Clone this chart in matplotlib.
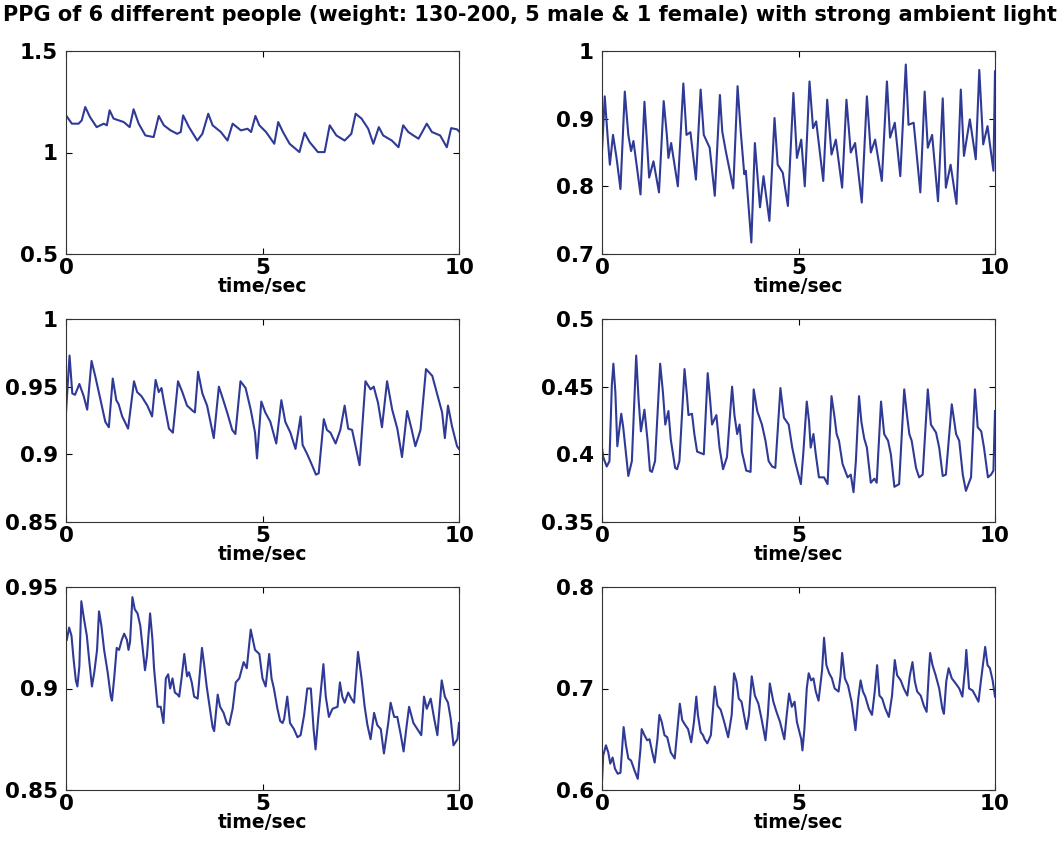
import matplotlib
matplotlib.use("Agg")
import matplotlib.pyplot as plt
from matplotlib.ticker import FuncFormatter

plt.rcParams['font.family'] = ['DejaVu Sans']
plt.rcParams['font.weight'] = 'bold'

TITLE = "PPG of 6 different people (weight: 130-200, 5 male & 1 female) with strong ambient light"
XLABEL = "time/sec"
X_TICKS = [0, 5, 10]

# ---- person 1 ----
t1 = [0, 0.15, 0.32, 0.40, 0.49, 0.61, 0.78, 0.96, 1.04, 1.11, 1.21, 1.47, 1.62, 1.72, 1.85, 2.02,
      2.23, 2.36, 2.49, 2.66, 2.83, 2.92, 2.98, 3.13, 3.34, 3.47, 3.62, 3.73, 3.94, 4.11, 4.24, 4.45,
      4.62, 4.71, 4.82, 4.92, 5.09, 5.30, 5.40, 5.52, 5.69, 5.94, 6.07, 6.20, 6.41, 6.58, 6.71, 6.88,
      7.09, 7.26, 7.37, 7.52, 7.69, 7.82, 7.96, 8.07, 8.29, 8.46, 8.58, 8.71, 8.84, 8.97, 9.18, 9.31,
      9.52, 9.69, 9.80, 9.95, 10.0]
v1 = [1.183, 1.142, 1.142, 1.158, 1.224, 1.175, 1.125, 1.142, 1.134, 1.208, 1.167, 1.150, 1.125, 1.213,
      1.142, 1.084, 1.076, 1.180, 1.134, 1.109, 1.092, 1.101, 1.183, 1.125, 1.059, 1.092, 1.191, 1.134,
      1.101, 1.059, 1.142, 1.109, 1.117, 1.101, 1.180, 1.134, 1.101, 1.043, 1.150, 1.101, 1.043, 1.002,
      1.097, 1.051, 1.002, 1.002, 1.134, 1.084, 1.059, 1.092, 1.191, 1.167, 1.117, 1.043, 1.125, 1.084,
      1.059, 1.026, 1.134, 1.101, 1.084, 1.068, 1.142, 1.101, 1.084, 1.026, 1.120, 1.114, 1.104]

# ---- person 2 ----
t2 = [0, 0.07, 0.14, 0.20, 0.28, 0.37, 0.47, 0.58, 0.67, 0.74, 0.80, 0.88, 0.98, 1.08, 1.20, 1.31,
      1.45, 1.57, 1.65, 1.69, 1.76, 1.93, 2.07, 2.15, 2.25, 2.39, 2.51, 2.59, 2.74, 2.87, 3.00, 3.06,
      3.15, 3.34, 3.45, 3.53, 3.62, 3.66, 3.80, 3.89, 4.02, 4.11, 4.26, 4.39, 4.47, 4.60, 4.73, 4.87,
      4.96, 5.07, 5.16, 5.28, 5.37, 5.45, 5.63, 5.73, 5.84, 5.95, 6.11, 6.22, 6.33, 6.44, 6.61, 6.74,
      6.84, 6.95, 7.12, 7.25, 7.33, 7.45, 7.59, 7.73, 7.80, 7.93, 8.10, 8.21, 8.29, 8.40, 8.55, 8.67,
      8.75, 8.87, 9.02, 9.13, 9.21, 9.36, 9.51, 9.60, 9.70, 9.81, 9.96, 10.0]
v2 = [0.852, 0.933, 0.876, 0.832, 0.876, 0.842, 0.796, 0.940, 0.876, 0.852, 0.867, 0.832, 0.788, 0.925,
      0.813, 0.837, 0.791, 0.926, 0.876, 0.842, 0.864, 0.800, 0.952, 0.876, 0.880, 0.810, 0.943, 0.876,
      0.857, 0.786, 0.935, 0.881, 0.852, 0.797, 0.948, 0.881, 0.818, 0.823, 0.717, 0.864, 0.769, 0.815,
      0.749, 0.901, 0.832, 0.820, 0.771, 0.938, 0.842, 0.869, 0.800, 0.955, 0.886, 0.896, 0.808, 0.928,
      0.847, 0.869, 0.798, 0.928, 0.850, 0.864, 0.776, 0.933, 0.850, 0.869, 0.808, 0.955, 0.872, 0.894,
      0.815, 0.980, 0.891, 0.894, 0.791, 0.940, 0.857, 0.876, 0.778, 0.930, 0.798, 0.832, 0.774, 0.943,
      0.845, 0.899, 0.840, 0.972, 0.862, 0.889, 0.823, 0.970]

# ---- person 3 ----
t3 = [0, 0.09, 0.16, 0.23, 0.34, 0.45, 0.54, 0.65, 0.75, 0.88, 1.00, 1.09, 1.19, 1.28, 1.34, 1.43,
      1.58, 1.73, 1.81, 1.92, 2.07, 2.19, 2.28, 2.36, 2.43, 2.49, 2.62, 2.72, 2.85, 2.96, 3.08, 3.23,
      3.28, 3.36, 3.47, 3.59, 3.76, 3.89, 3.97, 4.10, 4.23, 4.31, 4.44, 4.57, 4.70, 4.81, 4.86, 4.97,
      5.07, 5.20, 5.35, 5.48, 5.58, 5.71, 5.84, 5.97, 6.02, 6.14, 6.26, 6.36, 6.43, 6.56, 6.64, 6.73,
      6.86, 6.98, 7.09, 7.18, 7.28, 7.47, 7.62, 7.75, 7.83, 7.94, 8.04, 8.17, 8.30, 8.43, 8.55, 8.68,
      8.79, 8.89, 9.02, 9.16, 9.32, 9.44, 9.57, 9.64, 9.72, 9.82, 9.95, 10.0]
v3 = [0.931, 0.973, 0.945, 0.944, 0.952, 0.943, 0.933, 0.969, 0.957, 0.940, 0.924, 0.920, 0.956, 0.940,
      0.937, 0.928, 0.919, 0.954, 0.946, 0.943, 0.936, 0.928, 0.955, 0.946, 0.949, 0.939, 0.919, 0.916,
      0.954, 0.946, 0.936, 0.932, 0.931, 0.961, 0.945, 0.936, 0.912, 0.950, 0.943, 0.931, 0.918, 0.915,
      0.954, 0.949, 0.933, 0.916, 0.897, 0.939, 0.931, 0.924, 0.908, 0.940, 0.924, 0.916, 0.904, 0.928,
      0.907, 0.900, 0.892, 0.885, 0.886, 0.926, 0.918, 0.916, 0.908, 0.918, 0.936, 0.919, 0.918, 0.892,
      0.954, 0.948, 0.950, 0.938, 0.920, 0.954, 0.933, 0.919, 0.898, 0.932, 0.919, 0.906, 0.918, 0.963,
      0.958, 0.945, 0.931, 0.912, 0.936, 0.921, 0.906, 0.904]

# ---- person 4 ----
t4 = [0, 0.03, 0.12, 0.19, 0.25, 0.29, 0.34, 0.39, 0.49, 0.54, 0.63, 0.67, 0.76, 0.87, 0.93, 0.99,
      1.08, 1.16, 1.22, 1.27, 1.35, 1.48, 1.55, 1.61, 1.69, 1.75, 1.86, 1.91, 1.97, 2.10, 2.16, 2.20,
      2.29, 2.35, 2.42, 2.59, 2.69, 2.76, 2.80, 2.91, 2.99, 3.08, 3.18, 3.31, 3.37, 3.44, 3.50, 3.56,
      3.67, 3.78, 3.86, 3.95, 4.07, 4.16, 4.24, 4.33, 4.41, 4.54, 4.63, 4.75, 4.84, 4.92, 5.06, 5.12,
      5.21, 5.27, 5.31, 5.38, 5.44, 5.52, 5.65, 5.74, 5.84, 5.91, 5.97, 6.03, 6.12, 6.25, 6.33, 6.40,
      6.46, 6.54, 6.60, 6.67, 6.74, 6.84, 6.93, 6.99, 7.10, 7.18, 7.28, 7.35, 7.44, 7.56, 7.69, 7.76,
      7.82, 7.88, 7.99, 8.07, 8.16, 8.29, 8.37, 8.50, 8.58, 8.67, 8.75, 8.90, 9.01, 9.09, 9.18, 9.26,
      9.39, 9.49, 9.56, 9.65, 9.72, 9.82, 9.90, 9.96, 10.0]
v4 = [0.405, 0.398, 0.391, 0.395, 0.451, 0.467, 0.446, 0.406, 0.430, 0.420, 0.395, 0.384, 0.395, 0.473,
      0.441, 0.417, 0.433, 0.410, 0.388, 0.387, 0.395, 0.467, 0.446, 0.422, 0.432, 0.411, 0.390, 0.389,
      0.395, 0.463, 0.444, 0.429, 0.430, 0.415, 0.402, 0.400, 0.460, 0.437, 0.422, 0.429, 0.405, 0.389,
      0.398, 0.450, 0.429, 0.415, 0.422, 0.402, 0.388, 0.387, 0.448, 0.432, 0.422, 0.410, 0.395, 0.391,
      0.390, 0.449, 0.427, 0.422, 0.405, 0.394, 0.378, 0.400, 0.439, 0.424, 0.405, 0.415, 0.400, 0.383,
      0.383, 0.378, 0.443, 0.429, 0.415, 0.410, 0.393, 0.383, 0.385, 0.372, 0.395, 0.443, 0.424, 0.412,
      0.405, 0.379, 0.382, 0.379, 0.439, 0.415, 0.410, 0.400, 0.376, 0.378, 0.448, 0.429, 0.415, 0.410,
      0.390, 0.383, 0.385, 0.448, 0.422, 0.416, 0.405, 0.384, 0.385, 0.437, 0.415, 0.410, 0.385, 0.373,
      0.383, 0.448, 0.420, 0.417, 0.405, 0.383, 0.385, 0.388, 0.432]

# ---- person 5 ----
t5 = [0.02, 0.08, 0.14, 0.19, 0.25, 0.29, 0.34, 0.39, 0.46, 0.53, 0.59, 0.66, 0.72, 0.79, 0.84, 0.90,
      0.97, 1.06, 1.14, 1.17, 1.23, 1.29, 1.35, 1.42, 1.48, 1.55, 1.59, 1.63, 1.69, 1.75, 1.82, 1.89,
      1.97, 2.01, 2.06, 2.14, 2.20, 2.24, 2.33, 2.41, 2.48, 2.54, 2.60, 2.65, 2.71, 2.77, 2.84, 2.88,
      2.94, 3.01, 3.08, 3.13, 3.20, 3.26, 3.35, 3.46, 3.52, 3.58, 3.64, 3.73, 3.77, 3.86, 3.92, 4.01,
      4.09, 4.15, 4.24, 4.32, 4.41, 4.52, 4.60, 4.70, 4.81, 4.92, 5.00, 5.08, 5.17, 5.23, 5.29, 5.38,
      5.45, 5.51, 5.55, 5.63, 5.70, 5.80, 5.89, 5.97, 6.06, 6.14, 6.23, 6.30, 6.35, 6.42, 6.55, 6.61,
      6.69, 6.78, 6.91, 6.97, 7.03, 7.09, 7.18, 7.26, 7.33, 7.43, 7.52, 7.60, 7.67, 7.75, 7.84, 7.92,
      8.01, 8.09, 8.20, 8.26, 8.35, 8.43, 8.52, 8.59, 8.67, 8.73, 8.84, 8.94, 9.04, 9.11, 9.18, 9.28,
      9.37, 9.45, 9.56, 9.64, 9.72, 9.79, 9.86, 9.96, 10.0]
v5 = [0.924, 0.930, 0.926, 0.915, 0.904, 0.901, 0.911, 0.943, 0.934, 0.926, 0.914, 0.901, 0.908, 0.919,
      0.938, 0.931, 0.919, 0.908, 0.896, 0.894, 0.906, 0.920, 0.919, 0.924, 0.927, 0.924, 0.919, 0.923,
      0.945, 0.939, 0.937, 0.931, 0.916, 0.909, 0.916, 0.937, 0.924, 0.910, 0.891, 0.891, 0.883, 0.905,
      0.907, 0.900, 0.905, 0.898, 0.897, 0.896, 0.905, 0.917, 0.906, 0.908, 0.903, 0.896, 0.895, 0.920,
      0.911, 0.901, 0.893, 0.881, 0.879, 0.897, 0.891, 0.888, 0.883, 0.882, 0.890, 0.903, 0.905, 0.913,
      0.910, 0.929, 0.919, 0.917, 0.905, 0.901, 0.917, 0.905, 0.900, 0.890, 0.884, 0.883, 0.885, 0.896,
      0.883, 0.880, 0.876, 0.877, 0.887, 0.900, 0.900, 0.880, 0.870, 0.886, 0.912, 0.896, 0.886, 0.890,
      0.891, 0.903, 0.896, 0.893, 0.898, 0.895, 0.893, 0.918, 0.905, 0.891, 0.882, 0.875, 0.888, 0.882,
      0.880, 0.868, 0.883, 0.893, 0.886, 0.886, 0.877, 0.869, 0.882, 0.891, 0.883, 0.880, 0.877, 0.896,
      0.890, 0.895, 0.885, 0.877, 0.904, 0.896, 0.893, 0.885, 0.872, 0.875, 0.883]

# ---- person 6 ----
t6 = [0, 0.03, 0.10, 0.16, 0.21, 0.27, 0.33, 0.40, 0.47, 0.55, 0.61, 0.67, 0.74, 0.83, 0.91, 0.98,
      1.01, 1.08, 1.15, 1.21, 1.28, 1.34, 1.41, 1.46, 1.52, 1.59, 1.66, 1.75, 1.85, 1.92, 1.98, 2.04,
      2.10, 2.19, 2.27, 2.34, 2.40, 2.44, 2.51, 2.57, 2.61, 2.68, 2.77, 2.87, 2.94, 3.02, 3.11, 3.21,
      3.30, 3.36, 3.42, 3.48, 3.55, 3.68, 3.74, 3.81, 3.89, 3.98, 4.06, 4.16, 4.22, 4.27, 4.36, 4.44,
      4.53, 4.64, 4.70, 4.76, 4.83, 4.90, 4.96, 5.07, 5.10, 5.15, 5.21, 5.26, 5.32, 5.38, 5.44, 5.51,
      5.60, 5.65, 5.71, 5.78, 5.85, 5.92, 6.02, 6.07, 6.11, 6.18, 6.26, 6.35, 6.41, 6.45, 6.52, 6.58,
      6.64, 6.70, 6.79, 6.87, 6.94, 7.00, 7.06, 7.13, 7.21, 7.30, 7.38, 7.45, 7.51, 7.60, 7.68, 7.77,
      7.83, 7.90, 7.96, 8.02, 8.11, 8.19, 8.26, 8.32, 8.35, 8.41, 8.49, 8.58, 8.66, 8.70, 8.76, 8.82,
      8.90, 9.00, 9.09, 9.17, 9.24, 9.27, 9.34, 9.43, 9.50, 9.58, 9.64, 9.75, 9.81, 9.87, 9.94, 10.0]
v6 = [0.608, 0.634, 0.644, 0.637, 0.626, 0.632, 0.621, 0.616, 0.617, 0.662, 0.644, 0.631, 0.629, 0.619,
      0.611, 0.641, 0.660, 0.654, 0.649, 0.650, 0.637, 0.627, 0.650, 0.674, 0.667, 0.654, 0.652, 0.637,
      0.631, 0.660, 0.685, 0.669, 0.665, 0.660, 0.647, 0.667, 0.692, 0.674, 0.657, 0.654, 0.650, 0.646,
      0.654, 0.702, 0.683, 0.679, 0.667, 0.652, 0.674, 0.715, 0.707, 0.690, 0.687, 0.660, 0.674, 0.712,
      0.693, 0.685, 0.670, 0.649, 0.674, 0.705, 0.687, 0.677, 0.667, 0.650, 0.674, 0.695, 0.682, 0.687,
      0.667, 0.650, 0.639, 0.660, 0.700, 0.715, 0.708, 0.710, 0.697, 0.688, 0.718, 0.750, 0.723, 0.715,
      0.710, 0.700, 0.697, 0.713, 0.735, 0.710, 0.703, 0.687, 0.670, 0.659, 0.690, 0.708, 0.697, 0.692,
      0.680, 0.674, 0.697, 0.723, 0.693, 0.690, 0.680, 0.672, 0.693, 0.728, 0.713, 0.708, 0.700, 0.693,
      0.712, 0.726, 0.707, 0.697, 0.693, 0.683, 0.677, 0.718, 0.735, 0.723, 0.713, 0.700, 0.680, 0.675,
      0.707, 0.720, 0.710, 0.705, 0.700, 0.692, 0.720, 0.738, 0.700, 0.698, 0.693, 0.687, 0.707, 0.741,
      0.723, 0.720, 0.708, 0.692]

# y-range and ticks of each panel
Y_LIMITS = [(0.5, 1.5), (0.7, 1.0), (0.85, 1.0), (0.35, 0.5), (0.85, 0.95), (0.6, 0.8)]
Y_TICKS = [[0.5, 1, 1.5], [0.7, 0.8, 0.9, 1], [0.85, 0.9, 0.95, 1],
           [0.35, 0.4, 0.45, 0.5], [0.85, 0.9, 0.95], [0.6, 0.7, 0.8]]
SERIES = [(t1, v1), (t2, v2), (t3, v3), (t4, v4), (t5, v5), (t6, v6)]

W, H = 1059, 852
fig = plt.figure(figsize=(W / 100, H / 100), dpi=100)

col_left = [66, 602]
row_top = [51, 319, 587]
ax_w, ax_h = 393, 203

line_color = '#2f3a96'
fmt = FuncFormatter(lambda v, p: '%g' % v)

for i, (t, v) in enumerate(SERIES):
    r, c = divmod(i, 2)
    x0 = col_left[c]
    y0 = row_top[r]
    ax = fig.add_axes([x0 / W, 1 - (y0 + ax_h) / H, ax_w / W, ax_h / H])
    ax.plot(t, v, color=line_color, lw=1.5)
    ax.set_xlim(0, 10)
    ax.set_ylim(*Y_LIMITS[i])
    ax.set_xticks(X_TICKS)
    ax.set_yticks(Y_TICKS[i])
    ax.yaxis.set_major_formatter(fmt)
    ax.xaxis.set_major_formatter(fmt)
    ax.tick_params(direction='in', top=True, right=True, length=4, width=0.8,
                   labelsize=15.5)
    ax.tick_params(axis='y', pad=6)
    ax.tick_params(axis='x', pad=3)
    for lab in ax.get_xticklabels() + ax.get_yticklabels():
        lab.set_fontweight('bold')
    ax.set_xlabel(XLABEL, fontsize=13.5, fontweight='bold', labelpad=-0.5)
    for s in ax.spines.values():
        s.set_linewidth(0.8)
        s.set_color('#333333')

fig.text(0.5, 1 - 15 / H, TITLE, ha='center', va='center', fontsize=15, fontweight='bold')

fig.savefig('out.png', dpi=100)
